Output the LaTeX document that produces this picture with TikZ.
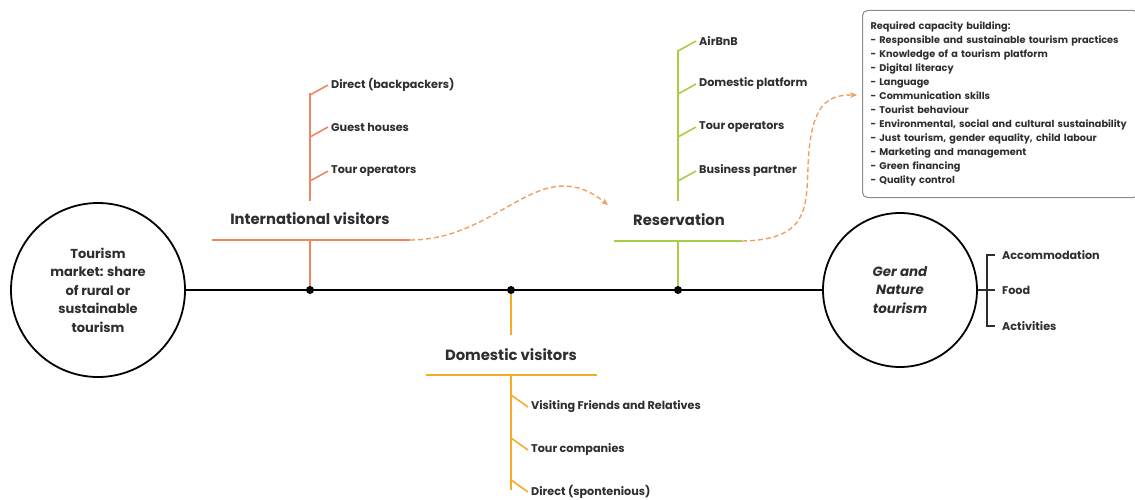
\documentclass[tikz,border=0pt]{standalone}
\usepackage{fontspec}
\setmainfont{Poppins}
\usetikzlibrary{positioning,arrows.meta}
\definecolor{intorange}{RGB}{238,134,96}
\definecolor{resgreen}{RGB}{168,206,70}
\definecolor{domyellow}{RGB}{246,172,40}
\definecolor{flowtan}{RGB}{236,160,100}
\definecolor{inkgray}{RGB}{45,45,50}

\begin{document}
\begin{tikzpicture}
[x=1pt, y=-1pt, text=inkgray,
    hub/.style={circle, draw=black, line width=1.8pt, minimum size=174pt,
    inner sep=0pt, align=center, font=\bfseries\fontsize{13}{18.5}\selectfont},
    spine/.style={draw=black, line width=1.8pt},
    junction/.style={circle, fill=black, minimum size=8pt, inner sep=0pt},
    branch/.style={line width=1.6pt},
    item/.style={anchor=west, inner sep=3pt, font=\bfseries\fontsize{11.2}{12}\selectfont},
    heading/.style={inner sep=0pt, font=\bfseries\fontsize{14.8}{16}\selectfont},
    flow/.style={draw=flowtan, line width=1.4pt, dash pattern=on 5pt off 3pt,
    -{Stealth[length=7pt,width=6pt]}},
    capbox/.style={rectangle, rounded corners=5pt, draw=black!45, line width=1pt,
    anchor=north west, minimum width=272pt, minimum height=187pt,
    text width=260pt, align=left, inner xsep=8pt, inner ysep=5pt,
    font=\bfseries\fontsize{9.7}{14}\selectfont},
    ]
    \useasboundingbox (0,0) rectangle (1135,500);

    % the two hubs and the spine
    \node[hub] (market) at (98,290) {Tourism\\market: share\\of rural or\\sustainable\\tourism};
    \node[hub, minimum size=154pt, font=\bfseries\itshape\fontsize{13.4}{18.5}\selectfont]
        (ger) at (900,290) {Ger and\\Nature\\tourism};
    \draw[spine] (market) -- (ger);

    \node[junction] (jint) at (310,290) {};
    \node[junction] (jdom) at (511,290) {};
    \node[junction] (jres) at (678,290) {};

    % international visitors
    \coordinate (intL) at (212,240);
    \coordinate (intR) at (410,240);
    \coordinate (intbar) at (310,240);
    \coordinate (intlow) at (310,201);
    \coordinate (inttop) at (310,93);
    \node[heading] (intlabel) at (310,219) {International visitors};
    \draw[branch, intorange] (intL) -- (intR);
    \draw[branch, intorange] (jint) -- (intbar);
    \draw[branch, intorange] (intlow) -- (inttop);
    \foreach \txt/\y [count=\i] in {Direct (backpackers)/85, Guest houses/127, Tour operators/171}{
      \coordinate (intk\i) at (310,\y+10);
      \node[item] (int\i) at (328,\y) {\txt};
      \draw[branch, intorange] (intk\i) -- (int\i.west);
    }

    % reservation
    \coordinate (resL) at (614,241);
    \coordinate (resR) at (742,241);
    \coordinate (resbar) at (678,241);
    \coordinate (reslow) at (678,201);
    \coordinate (restop) at (678,50);
    \node[heading] (reslabel) at (679,220) {Reservation};
    \draw[branch, resgreen] (resL) -- (resR);
    \draw[branch, resgreen] (jres) -- (resbar);
    \draw[branch, resgreen] (reslow) -- (restop);
    \foreach \txt/\y [count=\i] in {AirBnB/41, Domestic platform/84, Tour operators/127, Business partner/171}{
      \coordinate (resk\i) at (678,\y+10);
      \node[item] (res\i) at (696,\y) {\txt};
      \draw[branch, resgreen] (resk\i) -- (res\i.west);
    }

    % domestic visitors
    \coordinate (domhigh) at (511,335);
    \coordinate (domL) at (426,375);
    \coordinate (domR) at (597,375);
    \coordinate (dombar) at (511,375);
    \coordinate (dombot) at (511,490);
    \node[heading] (domlabel) at (511,355) {Domestic visitors};
    \draw[branch, domyellow] (jdom) -- (domhigh);
    \draw[branch, domyellow] (domL) -- (domR);
    \draw[branch, domyellow] (dombar) -- (dombot);
    \foreach \txt/\y [count=\i] in {Visiting Friends and Relatives/407, Tour companies/450, Direct (spontenious)/492}{
      \coordinate (domk\i) at (511,\y-12);
      \node[item] (dom\i) at (528,\y) {\txt};
      \draw[branch, domyellow] (domk\i) -- (dom\i.west);
    }

    % what the ger tourism offers
    \coordinate (brk) at (987,290);
    \node[item, inner xsep=7pt] (accom) at (995,255) {Accommodation};
    \node[item, inner xsep=7pt] (food) at (995,290) {Food};
    \node[item, inner xsep=7pt] (activ) at (995,326) {Activities};
    \draw[line width=1.3pt, inkgray] (ger.east) -- (brk) -- (food.west);
    \draw[line width=1.3pt, inkgray] (accom.west) -| (brk) |- (activ.west);

    % capacity box
    \node[capbox] (capacity) at (862,10) {Required capacity building:\\
      - Responsible and sustainable tourism practices\\
      - Knowledge of a tourism platform\\
      - Digital literacy\\
      - Language\\
      - Communication skills\\
      - Tourist behaviour\\
      - Environmental, social and cultural sustainability\\
      - Just tourism, gender equality, child labour\\
      - Marketing and management\\
      - Green financing\\
      - Quality control};

    % dashed flows
    \coordinate (resin) at (608,205);
    \coordinate (capin) at (857,95);
    \draw[flow] (intR) .. controls (500,240) and (540,150) .. (resin);
    \draw[flow] (resR) .. controls (810,240) and (806,205) .. (808,168)
        .. controls (810,100) and (830,95) .. (capin);
\end{tikzpicture}
\end{document}
